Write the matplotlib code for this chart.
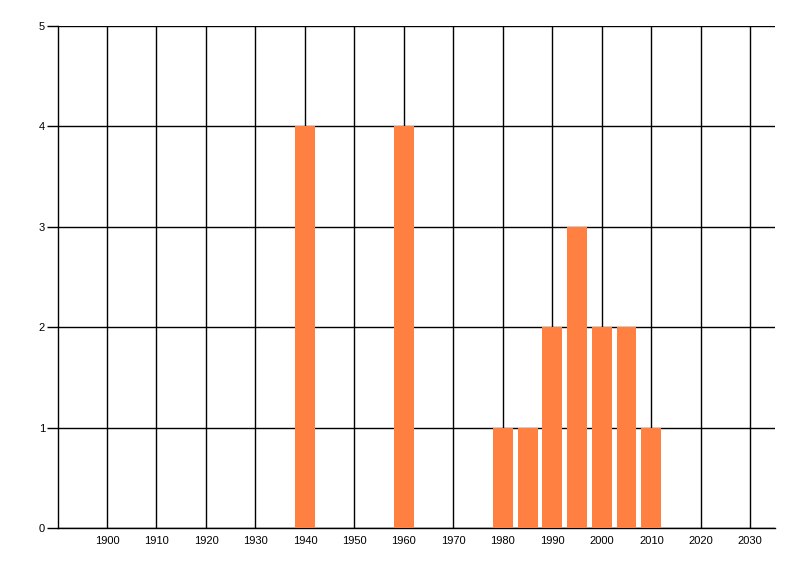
import matplotlib
matplotlib.use('Agg')
import matplotlib.pyplot as plt

# 年份和数量
years = [1940, 1960, 1980, 1985, 1990, 1995, 2000, 2005, 2010]
counts = [4, 4, 1, 1, 2, 3, 2, 2, 1]
xticks = list(range(1900, 2031, 10))
yticks = [0, 1, 2, 3, 4, 5]

plt.rcParams['font.family'] = ['Liberation Sans', 'DejaVu Sans']

fig = plt.figure(figsize=(8, 5.76), dpi=100)
ax = fig.add_axes([0.0719, 0.0833, 0.8969, 0.8716])

ax.bar(years, counts, width=4, color='#FF8040', zorder=3)

ax.set_xlim(1890, 2035)
ax.set_ylim(0, 5)
ax.set_xticks(xticks)
ax.set_yticks(yticks)
ax.tick_params(axis='x', length=0, pad=6, labelsize=8)
ax.tick_params(axis='y', length=8, width=1, labelsize=8, pad=1)

ax.grid(True, color='black', linewidth=1, zorder=0)
ax.set_axisbelow(True)
for s in ['top', 'right']:
    ax.spines[s].set_visible(False)
for s in ['left', 'bottom']:
    ax.spines[s].set_linewidth(1)
    ax.spines[s].set_color('black')

fig.savefig('out.png', dpi=100)
